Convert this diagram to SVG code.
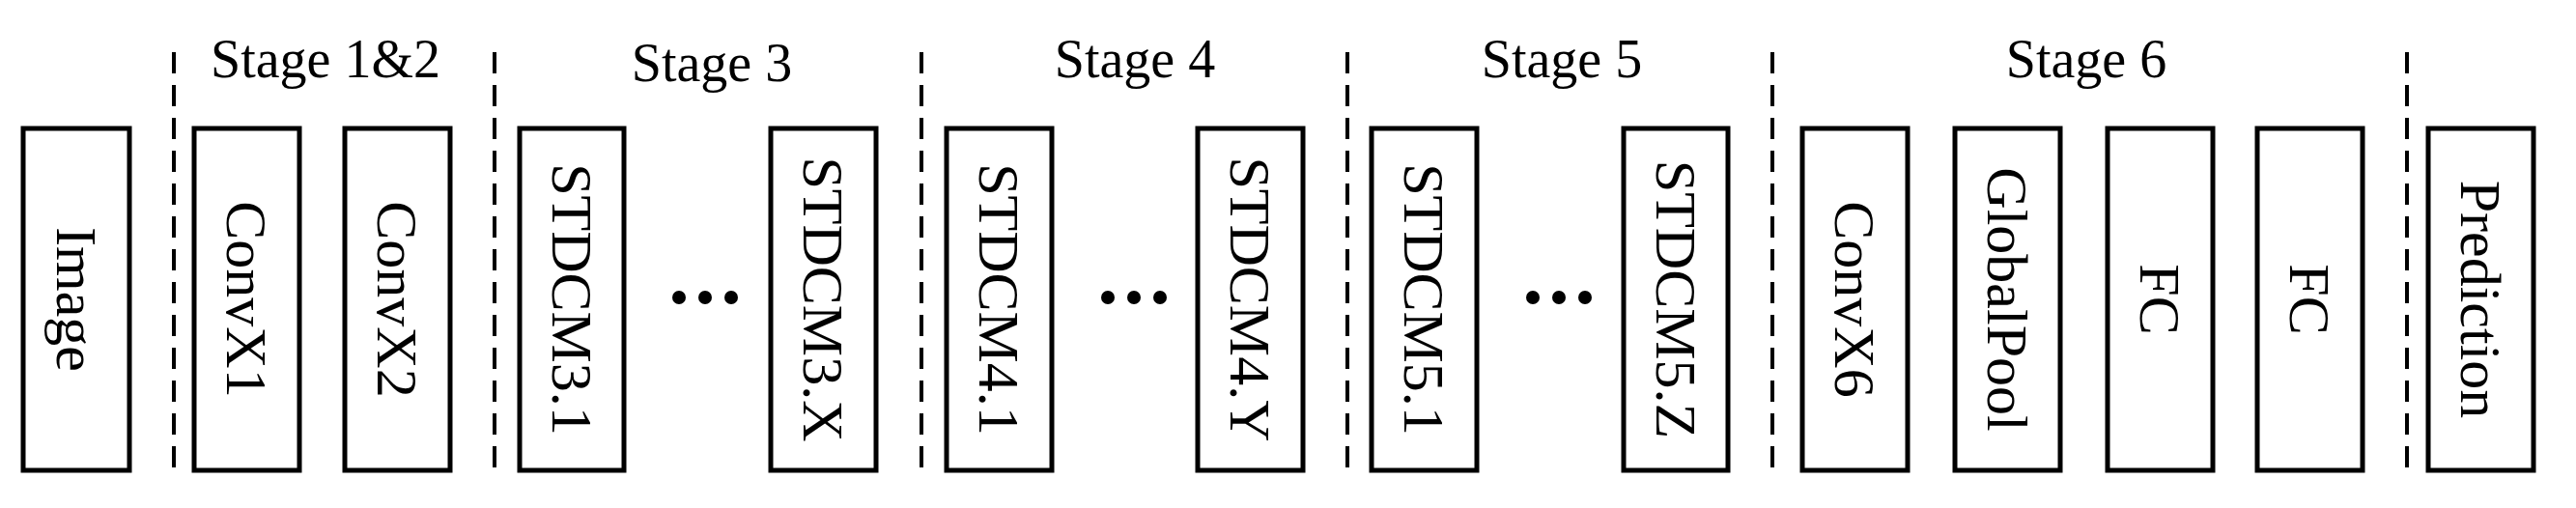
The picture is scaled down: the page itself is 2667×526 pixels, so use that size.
<svg xmlns="http://www.w3.org/2000/svg" width="2667" height="526" viewBox="0 0 2667 526">
<style>
.b{fill:#fff;stroke:#000;stroke-width:5}
.t{font-family:"Liberation Serif",serif;font-size:60px;fill:#000;text-anchor:middle;dominant-baseline:central}
.s{font-family:"Liberation Serif",serif;font-size:56px;fill:#000;text-anchor:middle}
.d{stroke:#000;stroke-width:4;stroke-dasharray:22 12}
</style>
<rect width="2667" height="526" fill="#fff"/>
<g id="connectors">
<line class="d" x1="180" y1="54" x2="180" y2="490"/>
<line class="d" x1="512" y1="54" x2="512" y2="490"/>
<line class="d" x1="954" y1="54" x2="954" y2="490"/>
<line class="d" x1="1395" y1="54" x2="1395" y2="490"/>
<line class="d" x1="1835" y1="54" x2="1835" y2="490"/>
<line class="d" x1="2492" y1="54" x2="2492" y2="490"/>
</g>
<g id="labels">
<text class="s" x="337" y="80">Stage 1&amp;2</text>
<text class="s" x="737" y="84">Stage 3</text>
<text class="s" x="1175" y="80">Stage 4</text>
<text class="s" x="1617" y="80">Stage 5</text>
<text class="s" x="2160" y="80">Stage 6</text>
</g>
<g id="n1"><rect class="b" x="24" y="133" width="110" height="354"/><text class="t" transform="translate(79,310) rotate(90)">Image</text></g>
<g id="n2"><rect class="b" x="201" y="133" width="109" height="354"/><text class="t" transform="translate(255,310) rotate(90)">ConvX1</text></g>
<g id="n3"><rect class="b" x="357" y="133" width="109" height="354"/><text class="t" transform="translate(411,310) rotate(90)">ConvX2</text></g>
<g id="n4"><rect class="b" x="538" y="133" width="108" height="354"/><text class="t" transform="translate(592,310) rotate(90)">STDCM3.1</text></g>
<g id="dots1"><circle cx="703" cy="308" r="7"/><circle cx="730" cy="308" r="7"/><circle cx="757" cy="308" r="7"/></g>
<g id="n5"><rect class="b" x="798" y="133" width="109" height="354"/><text class="t" transform="translate(852,310) rotate(90)">STDCM3.X</text></g>
<g id="n6"><rect class="b" x="980" y="133" width="109" height="354"/><text class="t" transform="translate(1034,310) rotate(90)">STDCM4.1</text></g>
<g id="dots2"><circle cx="1147" cy="308" r="7"/><circle cx="1174" cy="308" r="7"/><circle cx="1201" cy="308" r="7"/></g>
<g id="n7"><rect class="b" x="1240" y="133" width="109" height="354"/><text class="t" transform="translate(1294,310) rotate(90)">STDCM4.Y</text></g>
<g id="n8"><rect class="b" x="1420" y="133" width="109" height="354"/><text class="t" transform="translate(1474,310) rotate(90)">STDCM5.1</text></g>
<g id="dots3"><circle cx="1587" cy="308" r="7"/><circle cx="1614" cy="308" r="7"/><circle cx="1641" cy="308" r="7"/></g>
<g id="n9"><rect class="b" x="1681" y="133" width="108" height="354"/><text class="t" transform="translate(1735,310) rotate(90)">STDCM5.Z</text></g>
<g id="n10"><rect class="b" x="1866" y="133" width="109" height="354"/><text class="t" transform="translate(1920,310) rotate(90)">ConvX6</text></g>
<g id="n11"><rect class="b" x="2024" y="133" width="109" height="354"/><text class="t" transform="translate(2078,310) rotate(90)">GlobalPool</text></g>
<g id="n12"><rect class="b" x="2182" y="133" width="109" height="354"/><text class="t" transform="translate(2236,310) rotate(90)">FC</text></g>
<g id="n13"><rect class="b" x="2337" y="133" width="109" height="354"/><text class="t" transform="translate(2391,310) rotate(90)">FC</text></g>
<g id="n14"><rect class="b" x="2514" y="133" width="109" height="354"/><text class="t" transform="translate(2568,310) rotate(90)">Prediction</text></g>
</svg>
